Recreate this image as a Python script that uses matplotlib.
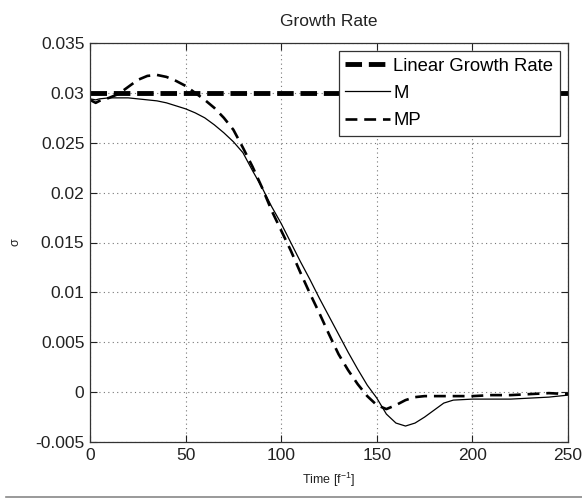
import numpy as np
import matplotlib
matplotlib.use('Agg')
import matplotlib.pyplot as plt
from matplotlib.lines import Line2D

plt.rcParams['font.family'] = ['Liberation Sans', 'DejaVu Sans']
plt.rcParams['mathtext.default'] = 'regular'

# growth rate data
time = [0, 3, 5, 10, 15, 20, 25, 30, 35, 40, 45, 50, 55, 60, 65, 70, 75, 80, 85,
        90, 95, 100, 105, 110, 115, 120, 125, 130, 135, 140, 145, 150, 155, 160,
        165, 170, 175, 180, 185, 190, 200, 210, 220, 230, 240, 250]

sigma_M = [0.0294, 0.0293, 0.0294, 0.0295, 0.0295, 0.0295, 0.0294, 0.0293, 0.0292,
           0.0290, 0.0287, 0.0284, 0.0280, 0.0275, 0.0268, 0.0260, 0.0251, 0.0240,
           0.0222, 0.0205, 0.0186, 0.0169, 0.0150, 0.0131, 0.0113, 0.0094, 0.0076,
           0.0058, 0.0040, 0.0023, 0.0007, -0.0006, -0.0022, -0.0031, -0.0034,
           -0.0031, -0.0025, -0.0018, -0.0011, -0.0008, -0.0007, -0.0007, -0.0007,
           -0.0006, -0.0005, -0.0003]

sigma_MP = [0.0293, 0.0290, 0.0292, 0.0295, 0.0299, 0.0306, 0.0313, 0.0317, 0.0318,
            0.0316, 0.0312, 0.0307, 0.0300, 0.0293, 0.0285, 0.0275, 0.0263, 0.0245,
            0.0226, 0.0205, 0.0182, 0.0162, 0.0142, 0.0120, 0.0099, 0.0079, 0.0058,
            0.0038, 0.0022, 0.0008, -0.0004, -0.0013, -0.0017, -0.0013, -0.0008,
            -0.0005, -0.0004, -0.0004, -0.0004, -0.0004, -0.0004, -0.0003, -0.0003,
            -0.0002, -0.0001, -0.0002]

linear_rate = 0.03

xticks = [0, 50, 100, 150, 200, 250]
yticks = [-0.005, 0, 0.005, 0.01, 0.015, 0.02, 0.025, 0.03, 0.035]
ytick_labels = ['-0.005', '0', '0.005', '0.01', '0.015', '0.02', '0.025', '0.03', '0.035']

fig = plt.figure(figsize=(5.82, 5.0), dpi=100)
ax = fig.add_axes([0.1546, 0.116, 0.8214, 0.798])

ax.plot([time[0], time[-1]], [linear_rate, linear_rate], color='black', lw=3.5,
        dashes=(3.4, 1.4), label='Linear Growth Rate')
ax.plot(time, sigma_M, color='black', lw=0.9, label='M')
ax.plot(time, sigma_MP, color='black', lw=1.9, dashes=(4.5, 2.6), label='MP')

ax.set_xlim(0, 250)
ax.set_ylim(-0.005, 0.035)
ax.set_xticks(xticks)
ax.set_xticklabels([str(x) for x in xticks])
ax.set_yticks(yticks)
ax.set_yticklabels(ytick_labels)
ax.tick_params(direction='in', length=5, width=0.8, labelsize=12.5,
               top=True, right=True, colors='#222222', pad=4)
ax.grid(True, linestyle=(0, (1, 3)), color='#777777', lw=0.8)
for s in ax.spines.values():
    s.set_linewidth(0.9)
    s.set_color('#333333')

ax.set_title('Growth Rate', fontsize=12.5, pad=12, color='#222222')
ax.set_xlabel('Time [f$^{-1}$]', fontsize=9, labelpad=6, color='#222222')
ax.set_ylabel('σ', fontsize=9, labelpad=10, color='#222222')

leg = ax.legend(loc='upper right', fontsize=13.3, frameon=True, fancybox=False,
                framealpha=1.0, handlelength=2.4, handletextpad=0.2,
                borderpad=0.35, labelspacing=0.55, borderaxespad=0.45)
leg.get_frame().set_edgecolor('#333333')
leg.get_frame().set_linewidth(0.9)

# thin rule along the bottom edge
fig.add_artist(Line2D([0.01, 1.0], [0.006, 0.006], color='#888888', lw=1.2,
                      transform=fig.transFigure))

fig.savefig('out.png', dpi=100)
